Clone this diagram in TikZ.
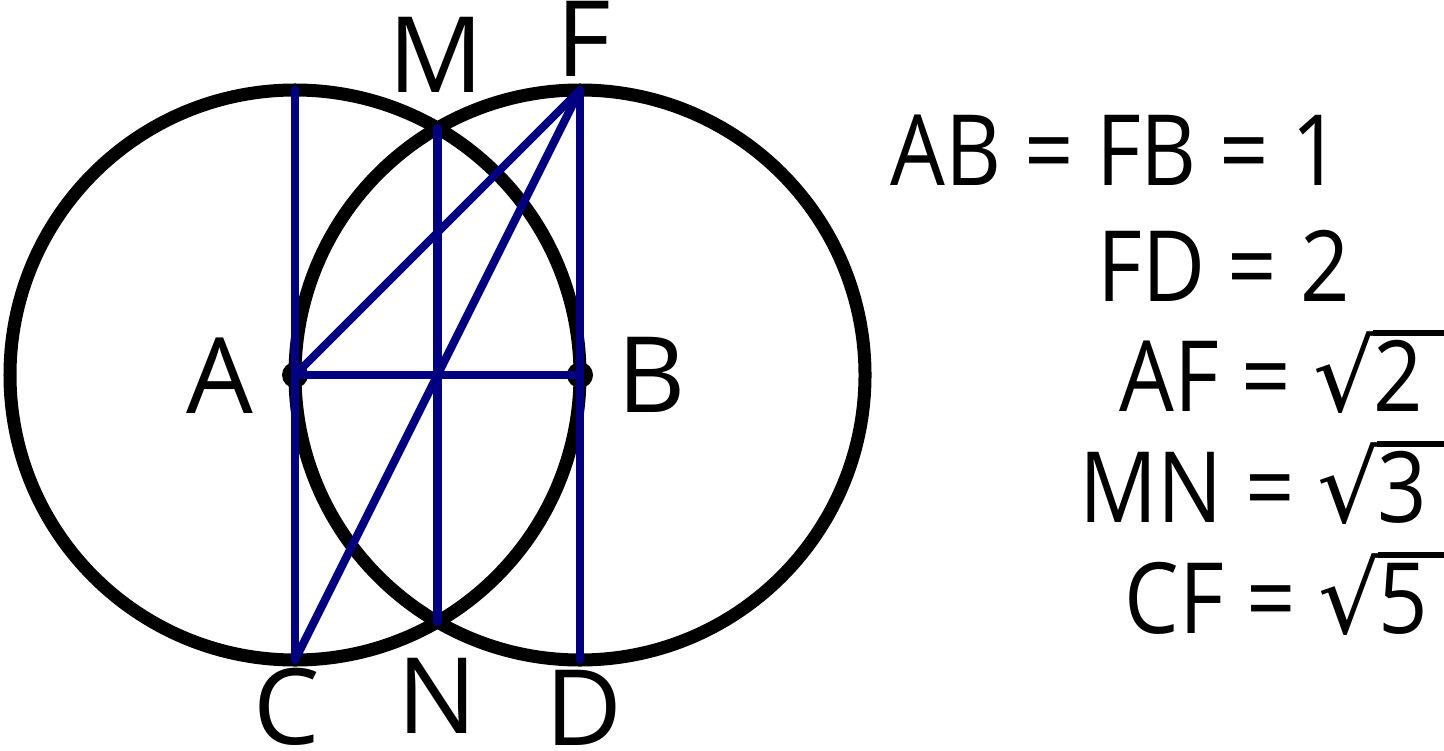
\documentclass[tikz,border=0pt]{standalone}
\usepackage{fontspec}
\setmainfont{Open Sans}
\newfontfamily\eqfont[FakeStretch=0.88]{Open Sans}
\newfontfamily\symfont{DejaVu Sans}
\definecolor{navyline}{RGB}{0,0,128}
\newcommand{\rootsign}[1]{{\symfont √}\kern-0.03em\makebox[0pt][l]{\rule[0.76em]{0.9em}{0.065em}}#1}

\begin{document}
\begin{tikzpicture}[
    circ/.style={line width=3.7pt},
    seg/.style={navyline, line width=2.3pt, line cap=round, line join=round},
    lbl/.style={anchor=base, inner sep=0pt, font=\fontsize{30}{36}\selectfont},
    eqn/.style={anchor=base west, inner sep=0pt, font=\fontsize{28}{34}\eqfont}]
    \useasboundingbox (0,0) rectangle (14.44,7.5);

    \coordinate (A) at (2.95, 3.75);
    \coordinate (B) at (5.80, 3.75);
    \coordinate (C) at (2.95, 0.90);
    \coordinate (D) at (5.80, 0.90);
    \coordinate (F) at (5.80, 6.60);
    \coordinate (T) at (2.95, 6.60);
    \coordinate (M) at (4.375, 6.218);
    \coordinate (N) at (4.375, 1.282);

    % 円を描く
    \draw[circ] (A) circle (2.85);
    \draw[circ] (B) circle (2.85);
    \fill (A) circle (0.13);
    \fill (B) circle (0.13);

    % 線を引く
    \draw[seg] (T) -- (C);
    \draw[seg] (M) -- (N);
    \draw[seg] (F) -- (D);
    \draw[seg] (A) -- (B);
    \draw[seg] (A) -- (F);
    \draw[seg] (C) -- (F);

    % 文字を入れる
    \node[lbl] (lblM) at (4.36, 6.57) {M};
    \node[lbl] (lblF) at (5.84, 6.73) {F};
    \node[lbl] (lblA) at (2.195, 3.37) {A};
    \node[lbl] (lblB) at (6.515, 3.38) {B};
    \node[lbl] (lblC) at (2.87, 0.06) {C};
    \node[lbl] (lblN) at (4.375, 0.17) {N};
    \node[lbl] (lblD) at (5.835, 0.05) {D};

    % 式
    \node[eqn] (eq1) at (8.90, 5.64) {AB = FB = 1};
    \node[eqn] (eq2) at (10.97, 4.49) {FD = 2};
    \node[eqn] (eq3) at (11.19, 3.39) {AF = \rootsign{2}};
    \node[eqn] (eq4) at (10.79, 2.28) {MN = \rootsign{3}};
    \node[eqn] (eq5) at (11.24, 1.17) {CF = \rootsign{5}};

\end{tikzpicture}
\end{document}
